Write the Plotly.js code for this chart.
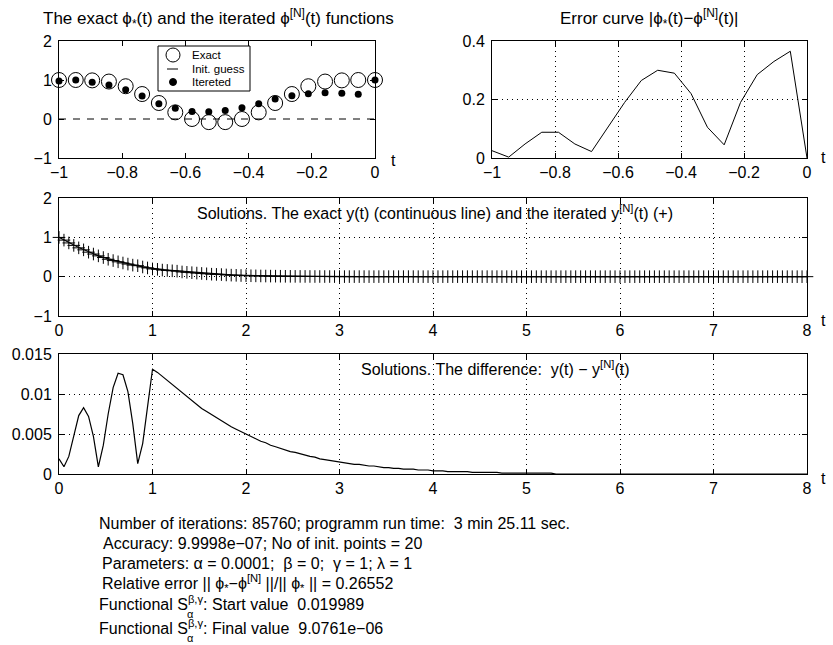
<!DOCTYPE html>
<html><head><meta charset="utf-8">
<script src="https://cdn.plot.ly/plotly-3.0.1.min.js"></script>
<style>html,body{margin:0;padding:0;background:#fff}#chart{width:833px;height:645px}</style>
</head><body><div id="chart"></div>
<script>
// ---- data ----
const phiT = [-1, -0.947, -0.895, -0.842, -0.789, -0.737, -0.684, -0.632, -0.579, -0.526, -0.474, -0.421, -0.368, -0.316, -0.263, -0.211, -0.158, -0.105, -0.053, 0];
const phiExact = [1.00, 1.00, 0.99, 0.96, 0.84, 0.64, 0.41, 0.17, 0.00, -0.08, -0.08, 0.00, 0.17, 0.41, 0.64, 0.84, 0.96, 0.99, 1.00, 1.00];
const phiIter = [0.975, 0.997, 0.94, 0.87, 0.75, 0.59, 0.39, 0.275, 0.19, 0.185, 0.22, 0.29, 0.39, 0.515, 0.595, 0.65, 0.675, 0.66, 0.635, 1.00];
const phiErr = [0.025, 0.003, 0.048, 0.088, 0.088, 0.048, 0.022, 0.105, 0.19, 0.265, 0.30, 0.29, 0.22, 0.105, 0.045, 0.19, 0.285, 0.33, 0.365, 0.0];
const initT = [-1, 0];
const initGuess = [0, 0];
const legendLabels = ['Exact', 'Init. guess', 'Itereted'];

const solT = [0, .053, .105, .158, .211, .263, .316, .368, .421, .474, .526, .579, .632, .684, .737, .789, .842, .895, .947,
 1, 1.053, 1.105, 1.158, 1.211, 1.263, 1.316, 1.368, 1.421, 1.474, 1.526, 1.579, 1.632, 1.684, 1.737, 1.789, 1.842, 1.895, 1.947,
 2, 2.053, 2.105, 2.158, 2.211, 2.263, 2.316, 2.368, 2.421, 2.474, 2.526, 2.579, 2.632, 2.684, 2.737, 2.789, 2.842, 2.895, 2.947,
 3, 3.053, 3.105, 3.158, 3.211, 3.263, 3.316, 3.368, 3.421, 3.474, 3.526, 3.579, 3.632, 3.684, 3.737, 3.789, 3.842, 3.895, 3.947,
 4, 4.053, 4.105, 4.158, 4.211, 4.263, 4.316, 4.368, 4.421, 4.474, 4.526, 4.579, 4.632, 4.684, 4.737, 4.789, 4.842, 4.895, 4.947,
 5, 5.053, 5.105, 5.158, 5.211, 5.263, 5.316, 5.368, 5.421, 5.474, 5.526, 5.579, 5.632, 5.684, 5.737, 5.789, 5.842, 5.895, 5.947,
 6, 6.053, 6.105, 6.158, 6.211, 6.263, 6.316, 6.368, 6.421, 6.474, 6.526, 6.579, 6.632, 6.684, 6.737, 6.789, 6.842, 6.895, 6.947,
 7, 7.053, 7.105, 7.158, 7.211, 7.263, 7.316, 7.368, 7.421, 7.474, 7.526, 7.579, 7.632, 7.684, 7.737, 7.789, 7.842, 7.895, 7.947, 8];

const yExact = [1.00, 0.93, 0.86, 0.80, 0.74, 0.69, 0.63, 0.58, 0.53, 0.49, 0.45, 0.42, 0.39, 0.36, 0.33, 0.30, 0.28, 0.25, 0.23,
 0.21, 0.20, 0.18, 0.17, 0.16, 0.15, 0.13, 0.12, 0.11, 0.10, 0.09, 0.08, 0.07, 0.065, 0.06, 0.05, 0.045, 0.04, 0.035,
 0.03, 0.028, 0.025, 0.022, 0.02, 0.018, 0.016, 0.014, 0.012, 0.011, 0.01, 0.009, 0.008, 0.007, 0.006, 0.006, 0.005, 0.005, 0.004,
 0.004, 0.003, 0.003, 0.003, 0.003, 0.003, 0.002, 0.002, 0.002, 0.002, 0.002, 0.002, 0.002, 0.002, 0.002, 0.002, 0.001, 0.001, 0.001,
 0.001, 0.001, 0.001, 0.001, 0.001, 0.001, 0.001, 0.001, 0.001, 0.001, 0.001, 0.001, 0.001, 0.001, 0.001, 0.001, 0, 0, 0,
 0, 0, 0, 0, 0, 0, 0, 0, 0, 0, 0, 0, 0, 0, 0, 0, 0, 0, 0,
 0, 0, 0, 0, 0, 0, 0, 0, 0, 0, 0, 0, 0, 0, 0, 0, 0, 0, 0,
 0, 0, 0, 0, 0, 0, 0, 0, 0, 0, 0, 0, 0, 0, 0, 0, 0, 0, 0, 0];

const yDiff = [0.0019, 0.0009, 0.0022, 0.0048, 0.0073, 0.0083, 0.0072, 0.0047, 0.0009, 0.0036, 0.0075, 0.0108, 0.0126, 0.0124, 0.0103, 0.0063, 0.0013, 0.0038, 0.0083,
 0.0131, 0.0127, 0.0122, 0.0117, 0.0112, 0.0107, 0.0102, 0.0097, 0.0092, 0.0087, 0.0082, 0.0078, 0.0074, 0.0070, 0.0066, 0.0062, 0.0059, 0.0056, 0.0053,
 0.0050, 0.0047, 0.0044, 0.0041, 0.0039, 0.0036, 0.0034, 0.0032, 0.0030, 0.0028, 0.0027, 0.0025, 0.0023, 0.0022, 0.0021, 0.0019, 0.0018, 0.0017, 0.0016,
 0.0015, 0.0014, 0.0013, 0.0012, 0.0012, 0.0011, 0.0010, 0.0010, 0.0009, 0.0008, 0.0008, 0.0007, 0.0007, 0.0006, 0.0006, 0.0006, 0.0005, 0.0005, 0.0005,
 0.0004, 0.0004, 0.0004, 0.0003, 0.0003, 0.0003, 0.0003, 0.0003, 0.0002, 0.0002, 0.0002, 0.0002, 0.0002, 0.0002, 0.0001, 0.0001, 0.0001, 0.0001, 0.0001,
 0.0001, 0.0001, 0.0001, 0.0001, 0.0001, 0.0001, 0, 0, 0, 0, 0, 0, 0, 0, 0, 0, 0, 0, 0,
 0, 0, 0, 0, 0, 0, 0, 0, 0, 0, 0, 0, 0, 0, 0, 0, 0, 0, 0,
 0, 0, 0, 0, 0, 0, 0, 0, 0, 0, 0, 0, 0, 0, 0, 0, 0, 0, 0, 0];

const yIter = yExact.map((v, i) => v - yDiff[i]);

// ---- layout helpers ----
const W = 833, H = 645;
const px = v => v / W;
const py = v => 1 - v / H;
const FONT = 'Liberation Sans, Arial, Helvetica, sans-serif';
const FS = 16;

function ax(extra) {
  return Object.assign({
    showline: true, linecolor: '#000', linewidth: 1, mirror: 'ticks',
    ticks: 'inside', ticklen: 5, tickcolor: '#000', tickwidth: 1,
    zeroline: false, showgrid: true, gridcolor: '#000', gridwidth: 1, griddash: '1px,4px',
    tickfont: {family: FONT, size: FS, color: '#000'}, fixedrange: true
  }, extra);
}

const traces = [
  {x: phiT, y: phiExact, xaxis: 'x', yaxis: 'y', mode: 'markers', name: legendLabels[0], cliponaxis: false,
   marker: {symbol: 'circle-open', size: 15, color: '#000', line: {width: 1, color: '#000'}}},
  {x: initT, y: initGuess, xaxis: 'x', yaxis: 'y', mode: 'lines', name: legendLabels[1],
   line: {color: '#000', width: 1, dash: '7px,7px'}},
  {x: phiT, y: phiIter, xaxis: 'x', yaxis: 'y', mode: 'markers', name: legendLabels[2], cliponaxis: false,
   marker: {symbol: 'circle', size: 7, color: '#000'}},
  {x: phiT, y: phiErr, xaxis: 'x2', yaxis: 'y2', mode: 'lines',
   line: {color: '#000', width: 1}},
  {x: solT, y: yExact, xaxis: 'x3', yaxis: 'y3', mode: 'lines',
   line: {color: '#000', width: 1.2}},
  {x: solT, y: yIter, xaxis: 'x3', yaxis: 'y3', mode: 'markers', cliponaxis: false,
   marker: {symbol: 'cross-thin', size: 9, color: '#000', line: {width: 1, color: '#000'}}},
  {x: solT, y: yDiff, xaxis: 'x4', yaxis: 'y4', mode: 'lines',
   line: {color: '#000', width: 1.2}}
];

const ann = [];
function txt(text, x, y, opt) {
  ann.push(Object.assign({text: text, xref: 'paper', yref: 'paper', x: px(x), y: py(y),
    xanchor: 'center', yanchor: 'middle', showarrow: false,
    font: {family: FONT, size: FS, color: '#000'}}, opt || {}));
}
const TF = {font: {family: FONT, size: 17, color: '#000'}};
txt('The exact ϕ<sub>*</sub>(t) and the iterated ϕ<sup>[N]</sup>(t) functions', 218, 18, TF);
txt('Error curve |ϕ<sub>*</sub>(t)−ϕ<sup>[N]</sup>(t)|', 649, 18, TF);
txt('t', 393, 161);
txt('t', 823, 158);
txt('t', 823, 320);
txt('t', 823, 478);
txt('Solutions. The exact y(t) (continuous line) and the iterated y<sup>[N]</sup>(t) (+)', 435, 212);
txt('Solutions. The difference:\u00a0 y(t) − y<sup>[N]</sup>(t)', 359, 368, {xanchor: 'left'});
const L = {xanchor: 'left'};
txt('Number of iterations: 85760; programm run time:\u00a0 3 min 25.11 sec.', 97, 523, L);
txt('Accuracy: 9.9998e−07; No of init. points = 20', 101, 543, L);
txt('Parameters: α = 0.0001;\u00a0 β = 0;\u00a0 γ = 1; λ = 1', 100, 563, L);
txt('Relative error || ϕ<sub>*</sub>−ϕ<sup>[N]</sup> ||/|| ϕ<sub>*</sub> || = 0.26552', 100, 583, L);
txt('Functional S<sup>β,γ</sup>: Start value\u00a0 0.019989', 97, 603, L);
txt('α', 190, 614, {font: {family: FONT, size: 11, color: '#000'}});
txt('Functional S<sup>β,γ</sup>: Final value\u00a0 9.0761e−06', 97, 627, L);
txt('α', 190, 638, {font: {family: FONT, size: 11, color: '#000'}});

// hand-drawn legend box (decoration)
const LF = {family: FONT, size: 11.5, color: '#000'};
const legendRows = [55, 69, 82];
legendLabels.forEach((lab, i) => txt(lab, 190, legendRows[i], {xanchor: 'left', font: LF}));
const shapes = [
  {type: 'rect', xref: 'paper', yref: 'paper', x0: px(158), x1: px(250), y0: py(91), y1: py(46),
   line: {color: '#000', width: 1}, fillcolor: '#fff', layer: 'above'},
  {type: 'circle', xref: 'paper', yref: 'paper', x0: px(166), x1: px(180), y0: py(62), y1: py(48),
   line: {color: '#000', width: 1}, fillcolor: 'rgba(0,0,0,0)'},
  {type: 'line', xref: 'paper', yref: 'paper', x0: px(167), x1: px(178), y0: py(69), y1: py(69),
   line: {color: '#000', width: 1}},
  {type: 'circle', xref: 'paper', yref: 'paper', x0: px(169.5), x1: px(176.5), y0: py(85.5), y1: py(78.5),
   line: {color: '#000', width: 1}, fillcolor: '#000'}
];

const layout = {
  width: W, height: H, margin: {l: 0, r: 0, t: 0, b: 0},
  paper_bgcolor: '#fff', plot_bgcolor: '#fff',
  font: {family: FONT, size: FS, color: '#000'},
  showlegend: false,
  xaxis: ax({domain: [px(59), px(375)], range: [-1, 0], dtick: 0.2, tick0: -1, anchor: 'y', showgrid: false}),
  yaxis: ax({domain: [py(158), py(41)], range: [-1, 2], dtick: 1, anchor: 'x', showgrid: false, ticklabelstandoff: 3}),
  xaxis2: ax({domain: [px(492), px(807)], range: [-1, 0], dtick: 0.2, tick0: -1, anchor: 'y2'}),
  yaxis2: ax({domain: [py(158), py(41)], range: [0, 0.4], dtick: 0.2, anchor: 'x2', ticklabelstandoff: 3}),
  xaxis3: ax({domain: [px(59), px(807)], range: [0, 8], dtick: 1, anchor: 'y3'}),
  yaxis3: ax({domain: [py(316), py(198)], range: [-1, 2], dtick: 1, anchor: 'x3', ticklabelstandoff: 3}),
  xaxis4: ax({domain: [px(59), px(807)], range: [0, 8], dtick: 1, anchor: 'y4'}),
  yaxis4: ax({domain: [py(474), py(354)], range: [0, 0.015], dtick: 0.005, anchor: 'x4', ticklabelstandoff: 3}),
  shapes: shapes,
  annotations: ann
};

Plotly.newPlot('chart', traces, layout, {staticPlot: true, displayModeBar: false});
</script>
</body></html>
